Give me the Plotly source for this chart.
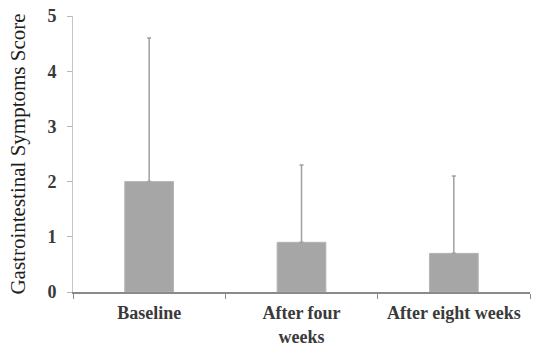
import plotly.graph_objects as go

categories = ["Baseline", "After four<br>weeks", "After eight weeks"]
means = [2.0, 0.9, 0.7]
sd_upper = [2.6, 1.4, 1.4]
y_ticks = [0, 1, 2, 3, 4, 5]

fig = go.Figure(go.Bar(
    x=categories, y=means, width=0.32,
    marker=dict(color="#a6a6a6", line=dict(color="#b4b4b4", width=1)),
    error_y=dict(type="data", array=sd_upper, symmetric=False, arrayminus=[0, 0, 0],
                 color="#a0a0a0", thickness=1.5, width=2),
))

fig.update_layout(
    width=536, height=349,
    margin=dict(l=73, r=6, t=16, b=57, autoexpand=False),
    plot_bgcolor="white", paper_bgcolor="white",
    showlegend=False,
    font=dict(family="Liberation Serif", color="#404040"),
)
fig.update_xaxes(
    type="category", tickson="boundaries", ticks="outside", ticklen=5,
    tickcolor="#8a8a8a", showline=True, linecolor="#8a8a8a", linewidth=1.5,
    tickfont=dict(size=18, family="Liberation Serif", weight="bold", color="#3a3a3a"),
    ticklabelstandoff=4,
    showgrid=False, range=[-0.5, 2.5], automargin=False,
)
fig.update_yaxes(
    range=[0, 5], tickvals=y_ticks, ticks="outside", ticklen=5, tickcolor="#b8b8b8",
    showline=True, linecolor="#c4c4c4", linewidth=1, showgrid=False, zeroline=False,
    tickfont=dict(size=18, family="Liberation Serif", weight="bold", color="#3a3a3a"),
    ticklabelstandoff=7,
    title=dict(text="Gastrointestinal Symptoms Score", standoff=16,
               font=dict(size=21, family="Liberation Serif", color="#1e1e1e")),
    automargin=False,
)

fig.write_html("out.html", config={"displayModeBar": False},
               post_script="document.body.style.margin='0';")
